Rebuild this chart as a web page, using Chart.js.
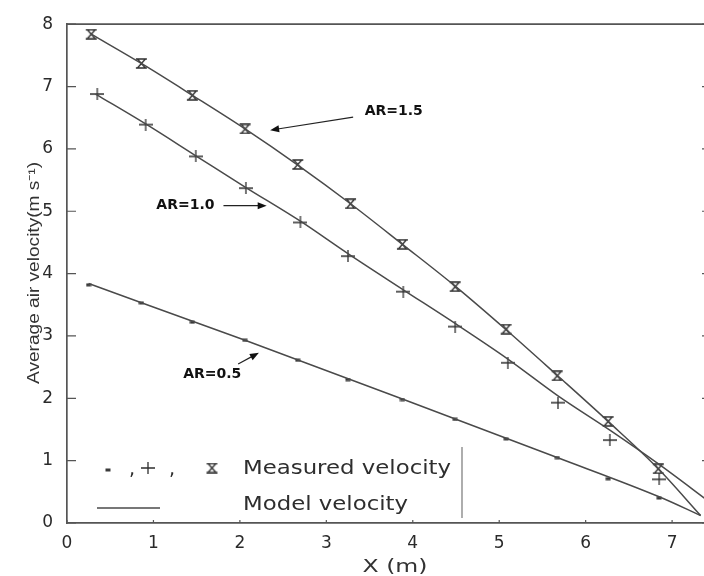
<!DOCTYPE html>
<html>
<head>
<meta charset="utf-8">
<script src="https://cdn.jsdelivr.net/npm/chart.js@4.4.1/dist/chart.umd.min.js"></script>
<style>
  html, body { margin: 0; padding: 0; background: #fff; overflow: hidden; }
  #wrap { width: 720px; height: 576px; }
</style>
</head>
<body>
<div id="wrap"><canvas id="velocityChart" width="720" height="576"></canvas></div>
<script>
// axis ticks
const xTicks = [0, 1, 2, 3, 4, 5, 6, 7];
const yTicks = [0, 1, 2, 3, 4, 5, 6, 7, 8];

// measured velocity, AR = 1.5
const measX15 = [0.28, 0.86, 1.45, 2.06, 2.67, 3.28, 3.88, 4.49, 5.08, 5.67, 6.26, 6.84];
const measY15 = [7.84, 7.37, 6.86, 6.32, 5.75, 5.12, 4.47, 3.79, 3.11, 2.36, 1.63, 0.87];
// measured velocity, AR = 1.0
const measX10 = [0.35, 0.91, 1.49, 2.07, 2.70, 3.25, 3.89, 4.49, 5.10, 5.68, 6.28, 6.85];
const measY10 = [6.88, 6.39, 5.88, 5.37, 4.82, 4.28, 3.71, 3.15, 2.57, 1.93, 1.33, 0.70];
// measured velocity, AR = 0.5
const measX05 = [0.25, 0.86, 1.45, 2.06, 2.67, 3.25, 3.88, 4.49, 5.08, 5.67, 6.26, 6.85];
const measY05 = [3.82, 3.53, 3.22, 2.93, 2.61, 2.30, 1.98, 1.66, 1.35, 1.05, 0.71, 0.40];

// model velocity curves
const modelX15 = [0.28, 0.86, 1.45, 2.06, 2.67, 3.28, 3.88, 4.49, 5.08, 5.67, 6.26, 6.84, 7.33];
const modelY15 = [7.84, 7.37, 6.86, 6.32, 5.74, 5.12, 4.47, 3.80, 3.10, 2.37, 1.63, 0.87, 0.12];
const modelX10 = [0.33, 0.91, 1.49, 2.07, 2.70, 3.25, 3.89, 4.49, 5.10, 5.68, 6.28, 6.85, 7.45];
const modelY10 = [6.88, 6.40, 5.89, 5.38, 4.84, 4.32, 3.74, 3.20, 2.63, 2.04, 1.49, 0.94, 0.32];
const modelX05 = [0.25, 2.06, 3.88, 5.67, 6.85, 7.33];
const modelY05 = [3.84, 2.93, 1.99, 1.05, 0.42, 0.12];

// arrow labels (data coordinates)
const notes = [
    { text: 'AR=1.5', at: [3.78, 6.60], from: [3.31, 6.51], to: [2.35, 6.30] },
    { text: 'AR=1.0', at: [1.37, 5.09], from: [1.81, 5.09], to: [2.31, 5.09] },
    { text: 'AR=0.5', at: [1.68, 2.38], from: [1.98, 2.55], to: [2.22, 2.73] }
];

function pts(xs, ys) {
    return xs.map((x, i) => ({ x: x, y: ys[i] }));
}

// marker glyphs
function hourglass() {
    const c = document.createElement('canvas');
    c.width = 13; c.height = 11;
    const g = c.getContext('2d');
    g.strokeStyle = '#2e2e2e';
    g.lineWidth = 1.3;
    g.beginPath();
    g.moveTo(1, 1); g.lineTo(12, 1);
    g.moveTo(1, 10); g.lineTo(12, 10);
    g.moveTo(2.5, 1); g.lineTo(10.5, 10);
    g.moveTo(10.5, 1); g.lineTo(2.5, 10);
    g.stroke();
    return c;
}
function plus() {
    const c = document.createElement('canvas');
    c.width = 14; c.height = 12;
    const g = c.getContext('2d');
    g.strokeStyle = '#2e2e2e';
    g.lineWidth = 1.3;
    g.beginPath();
    g.moveTo(0, 6); g.lineTo(14, 6);
    g.moveTo(7, 0); g.lineTo(7, 12);
    g.stroke();
    return c;
}
function dot() {
    const c = document.createElement('canvas');
    c.width = 6; c.height = 4;
    const g = c.getContext('2d');
    g.fillStyle = '#3a3a3a';
    g.fillRect(0.5, 0.5, 5, 3);
    return c;
}
const glyphHour = hourglass();
const glyphPlus = plus();
const glyphDot = dot();

const lineColor = '#4a4a4a';
const frameColor = '#555';

function arrow(ctx, x1, y1, x2, y2) {
    const ang = Math.atan2(y2 - y1, x2 - x1);
    ctx.beginPath();
    ctx.moveTo(x1, y1);
    ctx.lineTo(x2 - 6 * Math.cos(ang), y2 - 6 * Math.sin(ang));
    ctx.stroke();
    ctx.beginPath();
    ctx.moveTo(x2, y2);
    ctx.lineTo(x2 - 9 * Math.cos(ang) + 3.5 * Math.sin(ang), y2 - 9 * Math.sin(ang) - 3.5 * Math.cos(ang));
    ctx.lineTo(x2 - 9 * Math.cos(ang) - 3.5 * Math.sin(ang), y2 - 9 * Math.sin(ang) + 3.5 * Math.cos(ang));
    ctx.closePath();
    ctx.fill();
}

// frame, inward ticks, titles, labels and legend box
const extras = {
    id: 'extras',
    afterDraw(chart) {
        const { ctx, chartArea: a, scales: { x, y } } = chart;
        ctx.save();
        ctx.strokeStyle = frameColor;
        ctx.lineWidth = 1.7;
        ctx.beginPath();
        ctx.moveTo(a.left, a.top); ctx.lineTo(a.right, a.top);
        ctx.moveTo(a.right, a.top); ctx.lineTo(a.right, a.bottom);
        ctx.stroke();

        ctx.lineWidth = 1.2;
        ctx.beginPath();
        yTicks.forEach(v => {
            const py = y.getPixelForValue(v);
            ctx.moveTo(a.left, py); ctx.lineTo(a.left + 9, py);
            ctx.moveTo(a.right, py); ctx.lineTo(a.right - 9, py);
        });
        xTicks.forEach(v => {
            const px = x.getPixelForValue(v);
            ctx.moveTo(px, a.bottom); ctx.lineTo(px, a.bottom - 3);
        });
        ctx.stroke();

        // y axis title
        ctx.save();
        ctx.translate(35, 273);
        ctx.rotate(-Math.PI / 2);
        ctx.font = '16px "Liberation Sans"';
        ctx.fillStyle = '#333';
        ctx.textAlign = 'center';
        ctx.textBaseline = 'middle';
        const yt = 'Average air velocity(m s\u207B\u00B9)';
        ctx.scale(222 / ctx.measureText(yt).width, 1);
        ctx.fillText(yt, 0, 0);
        ctx.restore();

        // x axis title
        ctx.save();
        ctx.font = '17px "DejaVu Sans"';
        ctx.fillStyle = '#333';
        ctx.textBaseline = 'middle';
        ctx.textAlign = 'center';
        const xt = 'X (m)';
        ctx.translate(395, 568);
        ctx.scale(65 / ctx.measureText(xt).width, 1);
        ctx.fillText(xt, 0, 0);
        ctx.restore();

        // AR labels with arrows
        ctx.fillStyle = '#111';
        ctx.strokeStyle = '#222';
        ctx.lineWidth = 1.2;
        ctx.font = 'bold 14px "DejaVu Sans"';
        ctx.textAlign = 'center';
        ctx.textBaseline = 'middle';
        notes.forEach(n => {
            ctx.fillText(n.text, x.getPixelForValue(n.at[0]), y.getPixelForValue(n.at[1]));
            arrow(ctx,
                x.getPixelForValue(n.from[0]), y.getPixelForValue(n.from[1]),
                x.getPixelForValue(n.to[0]), y.getPixelForValue(n.to[1]));
        });

        // legend
        const lx = a.left;
        ctx.drawImage(glyphDot, lx + 41 - 3, 470 - 2);
        ctx.drawImage(glyphPlus, lx + 81 - 7, 468 - 6);
        ctx.drawImage(glyphHour, lx + 145 - 6.5, 468 - 5.5);
        ctx.font = '19px "DejaVu Sans"';
        ctx.fillStyle = '#2e2e2e';
        ctx.textAlign = 'left';
        ctx.fillText(',', lx + 62, 470);
        ctx.fillText(',', lx + 102, 470);
        const s = 208 / ctx.measureText('Measured velocity').width;
        ctx.save();
        ctx.translate(243, 469);
        ctx.scale(s, 1);
        ctx.fillText('Measured velocity', 0, 0);
        ctx.restore();
        ctx.save();
        ctx.translate(243, 505);
        ctx.scale(s, 1);
        ctx.fillText('Model velocity', 0, 0);
        ctx.restore();

        ctx.strokeStyle = lineColor;
        ctx.lineWidth = 1.5;
        ctx.beginPath();
        ctx.moveTo(97, 508); ctx.lineTo(160, 508);
        ctx.stroke();
        ctx.strokeStyle = '#777';
        ctx.lineWidth = 1.2;
        ctx.beginPath();
        ctx.moveTo(462, 447); ctx.lineTo(462, 518);
        ctx.stroke();
        ctx.restore();
    }
};

const modelStyle = {
    showLine: true,
    borderColor: lineColor,
    borderWidth: 1.5,
    pointRadius: 0,
    cubicInterpolationMode: 'monotone',
    fill: false
};

new Chart(document.getElementById('velocityChart'), {
    type: 'scatter',
    data: {
        datasets: [
            Object.assign({ label: 'Model AR=1.5', data: pts(modelX15, modelY15) }, modelStyle),
            Object.assign({ label: 'Model AR=1.0', data: pts(modelX10, modelY10) }, modelStyle),
            Object.assign({ label: 'Model AR=0.5', data: pts(modelX05, modelY05) }, modelStyle),
            { label: 'AR=1.5', data: pts(measX15, measY15), pointStyle: glyphHour, pointRadius: 6 },
            { label: 'AR=1.0', data: pts(measX10, measY10), pointStyle: glyphPlus, pointRadius: 6 },
            { label: 'AR=0.5', data: pts(measX05, measY05), pointStyle: glyphDot, pointRadius: 3 }
        ]
    },
    options: {
        responsive: false,
        animation: false,
        layout: { padding: { top: 18, right: 9, left: 0, bottom: 0 } },
        plugins: {
            legend: { display: false },
            tooltip: { enabled: false }
        },
        scales: {
            x: {
                type: 'linear',
                min: 0,
                max: 7.45,
                afterBuildTicks: scale => { scale.ticks = xTicks.map(v => ({ value: v })); },
                afterFit: scale => { scale.height = 53; },
                grid: { display: false, drawTicks: false },
                border: { color: frameColor, width: 1.7 },
                ticks: {
                    padding: 10,
                    color: '#2a2a2a',
                    font: { family: 'DejaVu Sans', size: 17 }
                }
            },
            y: {
                type: 'linear',
                min: 0,
                max: 8,
                afterBuildTicks: scale => { scale.ticks = yTicks.map(v => ({ value: v })); },
                afterFit: scale => { scale.width = 67; },
                grid: { display: false, drawTicks: false },
                border: { color: frameColor, width: 1.7 },
                ticks: {
                    padding: 14,
                    color: '#2a2a2a',
                    font: { family: 'DejaVu Sans', size: 17 }
                }
            }
        }
    },
    plugins: [extras]
});
</script>
</body>
</html>
